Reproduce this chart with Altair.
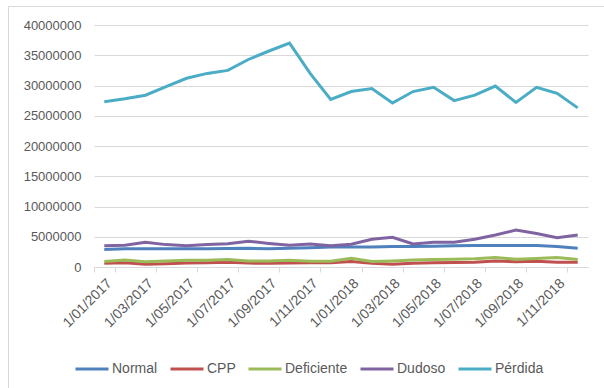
import altair as alt
import pandas as pd

months = ["1/01/2017", "1/02/2017", "1/03/2017", "1/04/2017", "1/05/2017", "1/06/2017",
          "1/07/2017", "1/08/2017", "1/09/2017", "1/10/2017", "1/11/2017", "1/12/2017",
          "1/01/2018", "1/02/2018", "1/03/2018", "1/04/2018", "1/05/2018", "1/06/2018",
          "1/07/2018", "1/08/2018", "1/09/2018", "1/10/2018", "1/11/2018", "1/12/2018"]

# values in millions
normal = [2.9, 3.0, 3.0, 3.0, 3.0, 3.0, 3.05, 3.1, 3.0, 3.1, 3.2, 3.3,
          3.3, 3.3, 3.4, 3.4, 3.45, 3.5, 3.55, 3.55, 3.55, 3.55, 3.4, 3.1]
cpp = [0.6, 0.7, 0.45, 0.55, 0.65, 0.7, 0.8, 0.65, 0.6, 0.65, 0.7, 0.7,
       0.9, 0.6, 0.45, 0.6, 0.7, 0.75, 0.8, 1.0, 0.85, 0.95, 0.8, 0.8]
deficiente = [0.9, 1.15, 0.85, 1.0, 1.1, 1.1, 1.25, 1.0, 1.0, 1.1, 0.95, 0.95,
              1.45, 0.9, 1.0, 1.15, 1.25, 1.3, 1.35, 1.55, 1.3, 1.4, 1.55, 1.25]
dudoso = [3.5, 3.6, 4.1, 3.7, 3.5, 3.7, 3.85, 4.25, 3.9, 3.6, 3.8, 3.5,
          3.75, 4.6, 4.9, 3.8, 4.1, 4.1, 4.6, 5.3, 6.1, 5.55, 4.85, 5.3]
perdida = [27.3, 27.8, 28.4, 29.8, 31.2, 32.0, 32.5, 34.3, 35.7, 37.0, 32.0, 27.7,
           29.0, 29.5, 27.1, 29.0, 29.7, 27.5, 28.4, 29.9, 27.2, 29.7, 28.7, 26.3]

series_names = ["Normal", "CPP", "Deficiente", "Dudoso", "Pérdida"]
series_colors = ["#4F81BD", "#C0504D", "#9BBB59", "#8064A2", "#4BACC6"]
y_ticks = [0, 5000000, 10000000, 15000000, 20000000, 25000000, 30000000, 35000000, 40000000]
label_months = months[::2]

rows = []
for k, (name, vals) in enumerate(zip(series_names, [normal, cpp, deficiente, dudoso, perdida])):
    for m, v in zip(months, vals):
        rows.append({"Mes": m, "Serie": name, "Valor": round(v * 1_000_000), "k": k})
df = pd.DataFrame(rows)

txt = "#595959"
grid = "#D9D9D9"
font = "Liberation Sans"

border = alt.Chart(pd.DataFrame({"b": [0]})).mark_rect(
    fillOpacity=0, stroke=grid, strokeWidth=1
).encode(x=alt.value(-85.5), x2=alt.value(800), y=alt.value(-18.5), y2=alt.value(600))

lines = alt.Chart(df).mark_line(strokeWidth=3).encode(
    x=alt.X("Mes:O", sort=months,
            scale=alt.Scale(type="band", paddingInner=0, paddingOuter=0),
            axis=alt.Axis(values=label_months, labelAngle=-45, tickBand="extent",
                          grid=False, title=None, labelFontSize=14, labelColor=txt,
                          labelFont=font, domainColor=grid, tickColor=grid, tickSize=5,
                          labelPadding=4, labelOverlap=False)),
    y=alt.Y("Valor:Q", scale=alt.Scale(domain=[0, 40000000]),
            axis=alt.Axis(values=y_ticks, format="d", title=None, ticks=False, domain=False,
                          labelPadding=13, labelFontSize=13, labelColor=txt, labelFont=font,
                          gridColor=grid, gridWidth=1)),
    color=alt.Color("Serie:N", sort=series_names,
                    scale=alt.Scale(domain=series_names, range=series_colors),
                    legend=alt.Legend(orient="none", legendX=-20, legendY=326,
                                      direction="horizontal", title=None,
                                      symbolType="stroke", symbolStrokeWidth=3,
                                      symbolSize=1089, labelFontSize=14, labelColor=txt,
                                      labelFont=font, columnPadding=6, labelOffset=2)),
    order=alt.Order("k:Q"),
    detail="Serie:N",
)

chart = alt.layer(border, lines).properties(
    width=494, height=242,
    padding={"left": 94, "top": 25, "right": 16, "bottom": 121},
    autosize=alt.AutoSizeParams(type="none"),
).configure_view(stroke=None)

chart.save("out.html", embed_options={"renderer": "svg", "actions": False})
